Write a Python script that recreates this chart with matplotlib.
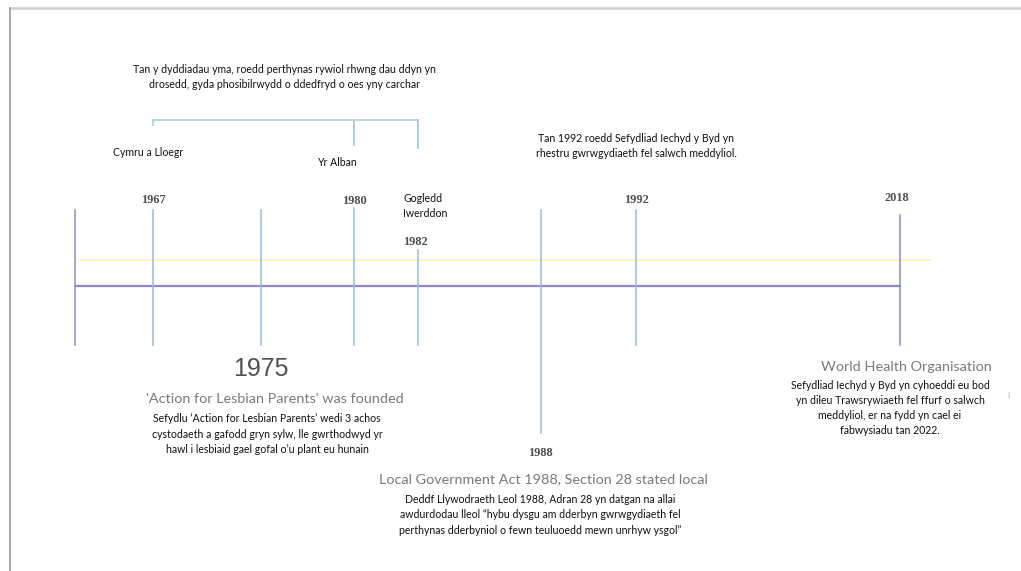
import matplotlib
matplotlib.use("Agg")
import matplotlib.pyplot as plt

plt.rcParams['font.family'] = ['Lato', 'DejaVu Sans']

# ---- data ----
years = [1967, 1975, 1980, 1982, 1988, 1992, 2018]
region_labels = ["Cymru a Lloegr", "Yr Alban", "Gogledd\nIwerddon"]
region_years = [1967, 1980, 1982]
intro_text = ("Tan y dyddiadau yma, roedd perthynas rywiol rhwng dau ddyn yn\n"
              "drosedd, gyda phosibilrwydd o ddedfryd o oes yny carchar")
who_text = ("Tan 1992 roedd Sefydliad Iechyd y Byd yn\n"
            "rhestru gwrwgydiaeth fel salwch meddyliol.")
alp_title = "'Action for Lesbian Parents' was founded"
alp_text = ("Sefydlu \u2018Action for Lesbian Parents\u2019 wedi 3 achos\n"
            "cystodaeth a gafodd gryn sylw, lle gwrthodwyd yr\n"
            "hawl i lesbiaid gael gofal o\u2019u plant eu hunain")
s28_title = "Local Government Act 1988, Section 28 stated local"
s28_text = ("Deddf Llywodraeth Leol 1988, Adran 28 yn datgan na allai\n"
            "awdurdodau lleol \u201chybu dysgu am dderbyn gwrwgydiaeth fel\n"
            "perthynas dderbyniol o fewn teuluoedd mewn unrhyw ysgol\u201d")
who2_title = "World Health Organisation"
who2_text = ("Sefydliad Iechyd y Byd yn cyhoeddi eu bod\n"
             "yn dileu Trawsrywiaeth fel ffurf o salwch\n"
             "meddyliol, er na fydd yn cael ei\n"
             "fabwysiadu tan 2022.")

# ---- layout (pixel positions on the canvas) ----
W, H = 1021, 571
xpos = {1967: 153, 1975: 261, 1980: 354, 1982: 418, 1988: 541, 1992: 636, 2018: 900}
start_x = 75
axis_y = 286
blue = '#9cb9d4'
purple = '#8c8abf'
gray_txt = '#4f4f4f'

fig = plt.figure(figsize=(W / 100, H / 100), dpi=100)
ax = fig.add_axes([0, 0, 1, 1])
ax.set_xlim(0, W)
ax.set_ylim(H, 0)
ax.axis('off')

# frame
ax.plot([10, W], [8, 8], color='#cfcfcf', lw=1.8)
ax.plot([9.5, 9.5], [8, H], color='#9a9a9a', lw=1.2)

# faint yellow guide
ax.plot([80, 930], [260, 260], color='#f8f4c6', lw=1.5)

# main timeline
ax.plot([start_x, xpos[2018]], [axis_y, axis_y], color=purple, lw=1.6)
ax.plot([start_x, start_x], [210, 345], color='#9a98b8', lw=1.2)

# vertical event lines (segments)
segments = {
    1967: [(210, 345)],
    1975: [(210, 345)],
    1980: [(120, 145), (208, 345)],
    1982: [(120, 148), (250, 345)],
    1988: [(210, 433)],
    1992: [(210, 345)],
    2018: [(215, 345)],
}
for yr in years:
    c = purple if yr == 2018 else blue
    for y0, y1 in segments[yr]:
        ax.plot([xpos[yr], xpos[yr]], [y0, y1], color=c, lw=1.1)

# top bracket
ax.plot([xpos[1967], xpos[1982]], [120, 120], color='#a9d3d8', lw=1.2)
ax.plot([xpos[1967], xpos[1967]], [120, 125], color='#a9d3d8', lw=1.2)

# year labels
year_lab = {1967: (153, 200), 1980: (354, 201), 1982: (415, 242),
            1992: (636, 200), 2018: (897, 198), 1988: (540, 453)}
for yr, (x, y) in year_lab.items():
    ax.text(x, y, str(yr), ha='center', va='center', fontsize=8.8,
            fontweight='bold', color=gray_txt, family=['Liberation Serif', 'DejaVu Serif'])
ax.text(261, 369, "1975", ha='center', va='center', fontsize=18,
        color='#525252', family=['Liberation Sans', 'DejaVu Sans'])

# faint english titles
tcol = '#7a7a7a'
ax.text(275, 399, alp_title, ha='center', va='center', fontsize=10.4, color=tcol)
ax.text(543, 479, s28_title, ha='center', va='center', fontsize=10.4, color=tcol)
ax.text(906, 367, who2_title, ha='center', va='center', fontsize=10.4, color=tcol)

# welsh texts
fs = 7.6
ls = 1.45
ax.text(284, 77, intro_text, ha='center', va='center', fontsize=fs,
        linespacing=ls, color='#111111')
ax.text(148, 153, region_labels[0], ha='center', va='center', fontsize=fs, color='#111111')
ax.text(337, 162, region_labels[1], ha='center', va='center', fontsize=fs, color='#111111')
ax.text(403, 206, region_labels[2], ha='left', va='center', fontsize=fs,
        linespacing=ls, color='#111111')
ax.text(636, 146, who_text, ha='center', va='center', fontsize=fs,
        linespacing=ls, color='#111111')
ax.text(267, 434, alp_text, ha='center', va='center', fontsize=fs,
        linespacing=ls, color='#111111')
ax.text(540, 515, s28_text, ha='center', va='center', fontsize=fs,
        linespacing=ls, color='#111111')
ax.text(890, 408, who2_text, ha='center', va='center', fontsize=fs,
        linespacing=ls, color='#111111')
ax.text(1008, 395, "I", ha='center', va='center', fontsize=6, color='#aaaaaa')

fig.savefig('out.png', dpi=100, facecolor='white')
